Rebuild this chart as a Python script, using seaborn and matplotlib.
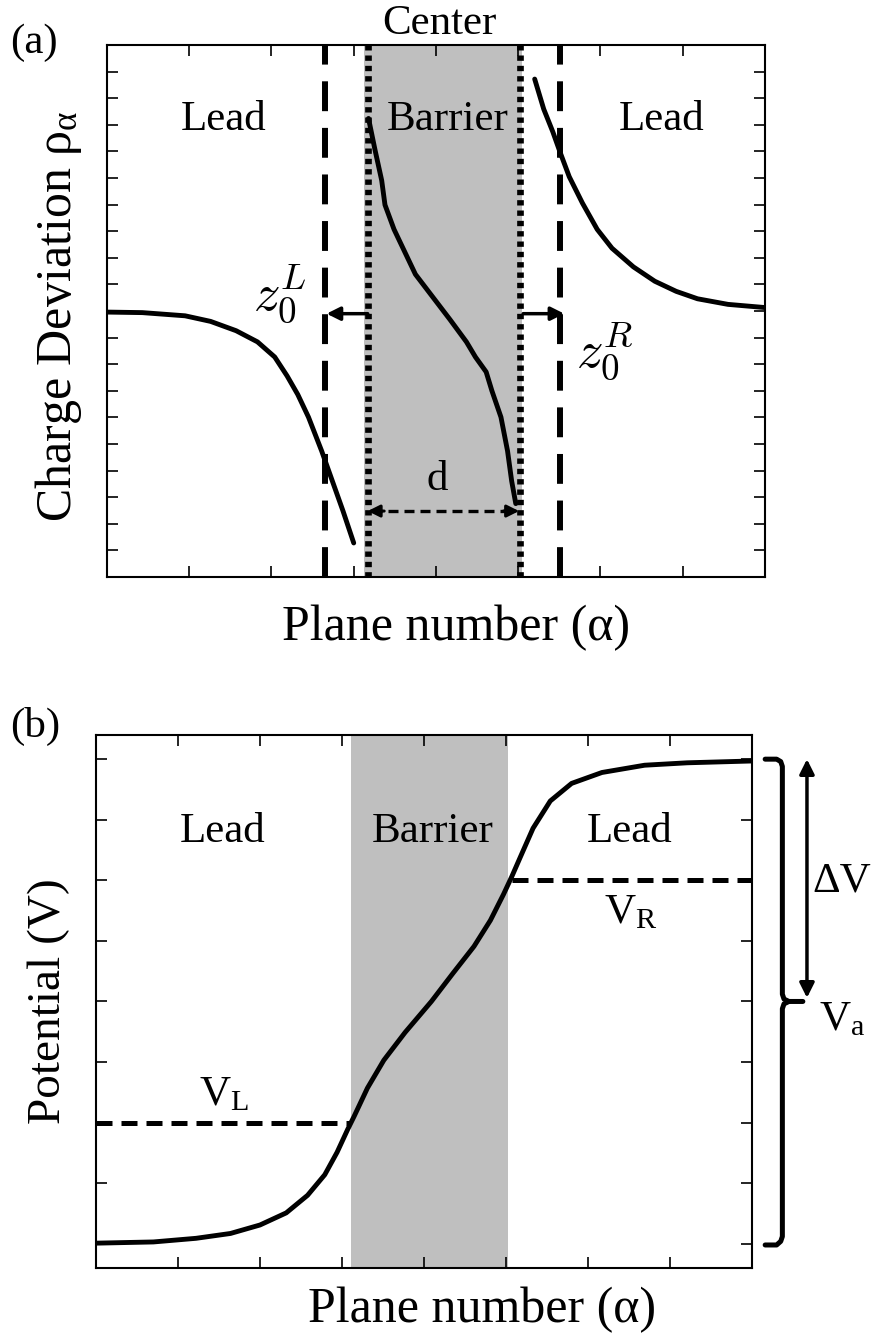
import numpy as np
import pandas as pd
import matplotlib
matplotlib.use("Agg")
import matplotlib.pyplot as plt
import seaborn as sns

# ---------------- data ----------------
rho_left_x = [0.0, 0.43, 0.95, 1.26, 1.57, 1.83, 2.04, 2.19, 2.32, 2.45, 2.61, 2.74, 2.87, 3.00]
rho_left_y = [9.96, 9.94, 9.82, 9.61, 9.26, 8.84, 8.27, 7.56, 6.86, 6.01, 4.74, 3.61, 2.48, 1.28]
rho_mid_x = [3.18, 3.26, 3.34, 3.38, 3.49, 3.61, 3.75, 3.96, 4.17, 4.37, 4.48, 4.61, 4.68, 4.79, 4.87, 4.92, 4.97]
rho_mid_y = [17.24, 16.04, 14.91, 13.99, 13.07, 12.29, 11.38, 10.53, 9.68, 8.84, 8.27, 7.71, 7.00, 6.01, 4.74, 3.61, 2.76]
rho_right_x = [5.20, 5.31, 5.42, 5.51, 5.62, 5.78, 5.96, 6.14, 6.40, 6.66, 6.92, 7.18, 7.55, 8.00]
rho_right_y = [18.72, 17.59, 16.74, 15.96, 15.05, 14.06, 13.07, 12.36, 11.66, 11.12, 10.74, 10.46, 10.25, 10.13]

barrier_a = [3.13, 5.05]
center_edges_a = [3.17, 5.02]
z0_positions = [2.65, 5.51]
z0_arrow_y = 9.90
d_arrow_y = 2.48

pot_x = [0.0, 0.70, 1.22, 1.64, 2.00, 2.32, 2.58, 2.79, 2.94, 3.07, 3.15, 3.31, 3.51, 3.77, 4.09,
         4.35, 4.61, 4.81, 4.97, 5.07, 5.18, 5.33, 5.54, 5.80, 6.17, 6.69, 7.21, 8.00]
pot_y = [0.01, 0.03, 0.09, 0.17, 0.31, 0.51, 0.80, 1.14, 1.51, 1.89, 2.11, 2.57, 3.03, 3.49, 4.00,
         4.46, 4.91, 5.34, 5.77, 6.06, 6.40, 6.86, 7.31, 7.60, 7.78, 7.90, 7.94, 7.97]
barrier_b = [3.11, 5.03]
V_L, V_R = 2.0, 6.0
V_top, V_bottom, V_a = 8.0, 0.0, 4.0

a_xticks = list(range(1, 8))
a_yticks = list(range(1, 20))
b_xticks = list(range(1, 8))
b_yticks = list(range(0, 9))

# ---------------- style ----------------
sns.set_theme(style="ticks")
plt.rcParams["font.family"] = ["Liberation Serif", "DejaVu Serif"]
plt.rcParams["mathtext.fontset"] = "cm"
plt.rcParams["axes.edgecolor"] = "black"
plt.rcParams["text.color"] = "black"
plt.rcParams["axes.labelcolor"] = "black"

fig = plt.figure(figsize=(8.71, 13.36), dpi=100)
axa = fig.add_axes([0.1228, 0.5681, 0.7555, 0.3982])
axb = fig.add_axes([0.1102, 0.0509, 0.7532, 0.3990])

LW = 3.5
GRAY = "#bfbfbf"
FS_TXT = 31
FS_LAB = 36

for ax in (axa, axb):
    for s in ax.spines.values():
        s.set_linewidth(1.5)
        s.set_color("black")
    ax.tick_params(direction="in", length=8, width=1.2, top=True, right=True,
                   labelbottom=False, labelleft=False, color="black")

# ---------------- panel (a) ----------------
axa.axvspan(barrier_a[0], barrier_a[1], color=GRAY, lw=0, zorder=0)
for xv in center_edges_a:
    axa.axvline(xv, color="black", lw=4.8, ls=(0, (0.8, 0.75)), zorder=2)
for xv in z0_positions:
    axa.axvline(xv, color="black", lw=4.3, ls=(0, (5, 2.8)), zorder=2)

sns.lineplot(x=rho_left_x, y=rho_left_y, ax=axa, color="black", lw=LW, estimator=None, sort=False)
sns.lineplot(x=rho_mid_x, y=rho_mid_y, ax=axa, color="black", lw=LW, estimator=None, sort=False)
sns.lineplot(x=rho_right_x, y=rho_right_y, ax=axa, color="black", lw=LW, estimator=None, sort=False)

axa.set_xlim(0, 8)
axa.set_ylim(0, 20)
axa.set_xticks(a_xticks)
axa.set_yticks(a_yticks)

ap = dict(arrowstyle="-|>", lw=2.5, color="black", mutation_scale=20, shrinkA=0, shrinkB=0)
axa.annotate("", xy=(z0_positions[0] + 0.02, z0_arrow_y), xytext=(center_edges_a[0], z0_arrow_y), arrowprops=ap)
axa.annotate("", xy=(z0_positions[1] + 0.05, z0_arrow_y), xytext=(center_edges_a[1] + 0.04, z0_arrow_y), arrowprops=ap)

axa.plot([center_edges_a[0] + 0.05, center_edges_a[1] - 0.05], [d_arrow_y, d_arrow_y],
         color="black", lw=2.4, ls=(0, (3, 1.8)))
apd = dict(arrowstyle="-|>", lw=2.2, color="black", mutation_scale=18, shrinkA=0, shrinkB=0)
axa.annotate("", xy=(center_edges_a[0], d_arrow_y), xytext=(center_edges_a[0] + 0.2, d_arrow_y), arrowprops=apd)
axa.annotate("", xy=(center_edges_a[1] - 0.01, d_arrow_y), xytext=(center_edges_a[1] - 0.2, d_arrow_y), arrowprops=apd)

axa.text(1.42, 16.81, "Lead", ha="center", va="baseline", fontsize=FS_TXT)
axa.text(4.14, 16.81, "Barrier", ha="center", va="baseline", fontsize=FS_TXT)
axa.text(6.74, 16.81, "Lead", ha="center", va="baseline", fontsize=FS_TXT)
axa.text(4.04, 20.40, "Center", ha="center", va="baseline", fontsize=FS_TXT, clip_on=False)
axa.text(4.02, 3.26, "d", ha="center", va="baseline", fontsize=FS_TXT)
axa.text(2.10, 10.64, r"$z_0^L$", ha="center", va="center", fontsize=38)
axa.text(6.05, 8.48, r"$z_0^R$", ha="center", va="center", fontsize=38)

axa.set_xlabel("Plane number (α)", fontsize=FS_LAB, va="baseline", visible=True)
axa.xaxis.set_label_coords(0.530, -0.118)
axa.set_ylabel(r"Charge Deviation $\mathregular{ρ_α}$", fontsize=FS_LAB, va="baseline", visible=True)
axa.yaxis.set_label_coords(-0.055, 0.49)

# ---------------- panel (b) ----------------
axb.axvspan(barrier_b[0], barrier_b[1], color=GRAY, lw=0, zorder=0)
sns.lineplot(x=pot_x, y=pot_y, ax=axb, color="black", lw=LW, estimator=None, sort=False)
axb.plot([0, barrier_b[0]], [V_L, V_L], color="black", lw=3.6, ls=(0, (3.2, 1.8)))
axb.plot([5.07, 8.0], [V_R, V_R], color="black", lw=3.6, ls=(0, (3.2, 1.8)))

axb.set_xlim(0, 8)
axb.set_ylim(-0.4, 8.4)
axb.set_xticks(b_xticks)
axb.set_yticks(b_yticks)

axb.text(1.54, 6.64, "Lead", ha="center", va="baseline", fontsize=FS_TXT)
axb.text(4.10, 6.64, "Barrier", ha="center", va="baseline", fontsize=FS_TXT)
axb.text(6.51, 6.64, "Lead", ha="center", va="baseline", fontsize=FS_TXT)
axb.text(1.56, 2.29, r"$\mathregular{V_L}$", ha="center", va="baseline", fontsize=FS_TXT)
axb.text(6.52, 5.29, r"$\mathregular{V_R}$", ha="center", va="baseline", fontsize=FS_TXT)
axb.text(9.09, 5.81, "ΔV", ha="center", va="baseline", fontsize=FS_TXT, clip_on=False)
axb.text(9.10, 3.53, r"$\mathregular{V_a}$", ha="center", va="baseline", fontsize=FS_TXT, clip_on=False)

bx0, bx1, bxt = 8.16, 8.37, 8.62
r = 0.12
bracket_x = [bx0, bx1 - 0.07, bx1 - 0.02, bx1, bx1, bx1 + 0.02, bx1 + 0.08, bxt]
bracket_y = [V_top, V_top, V_top - 0.04, V_top - r, V_a + r, V_a + 0.04, V_a, V_a]
axb.plot(bracket_x, bracket_y, color="black", lw=3.6, clip_on=False, solid_joinstyle="round")
bracket2_x = [bx1 + 0.08, bx1 + 0.02, bx1, bx1, bx1 - 0.02, bx1 - 0.07, bx0]
bracket2_y = [V_a, V_a - 0.04, V_a - r, V_bottom + r, V_bottom + 0.04, V_bottom - 0.02, V_bottom - 0.02]
axb.plot(bracket2_x, bracket2_y, color="black", lw=3.6, clip_on=False, solid_joinstyle="round")

apv = dict(arrowstyle="<|-|>", lw=2.5, color="black", mutation_scale=22, shrinkA=0, shrinkB=0)
axb.annotate("", xy=(8.67, V_top), xytext=(8.67, V_a + 0.06), arrowprops=apv, annotation_clip=False)

axb.set_xlabel("Plane number (α)", fontsize=FS_LAB, va="baseline", visible=True)
axb.xaxis.set_label_coords(0.588, -0.101)
axb.set_ylabel("Potential (V)", fontsize=34, va="baseline", visible=True)
axb.yaxis.set_label_coords(-0.055, 0.5)

fig.text(34 / 871, 1 - 53 / 1336, "(a)", ha="center", va="baseline", fontsize=FS_TXT)
fig.text(35 / 871, 1 - 737 / 1336, "(b)", ha="center", va="baseline", fontsize=FS_TXT)

fig.savefig("out.png", dpi=100)
